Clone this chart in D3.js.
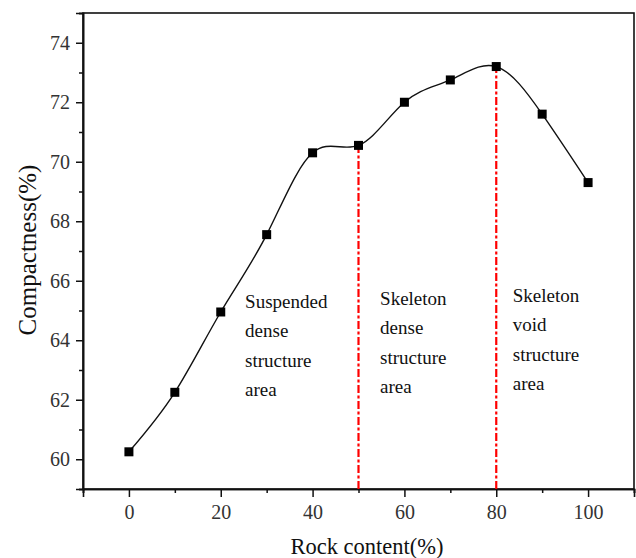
<!DOCTYPE html>
<html>
<head>
<meta charset="utf-8">
<script src="https://cdn.jsdelivr.net/npm/d3@7"></script>
<style>
  body { margin: 0; background: #fff; }
</style>
</head>
<body>
<script>
const width = 636, height = 558;
const serif = "'Liberation Serif', 'Times New Roman', Times, 'DejaVu Serif', serif";

// data
const rockContent = [0, 10, 20, 30, 40, 50, 60, 70, 80, 90, 100];
const compactness = [60.25, 62.25, 64.95, 67.55, 70.3, 70.55, 72.0, 72.75, 73.2, 71.6, 69.3];
const xMajor = [0, 20, 40, 60, 80, 100];
const xMinor = [-10, 10, 30, 50, 70, 90, 110];
const yMajor = [60, 62, 64, 66, 68, 70, 72, 74];
const yMinor = [59, 61, 63, 65, 67, 69, 71, 73, 75];
const boundaries = [50, 80];
const areaLabels = [
  { x: 25.3, lines: ["Suspended", "dense", "structure", "area"] },
  { x: 54.7, lines: ["Skeleton", "dense", "structure", "area"] },
  { x: 83.6, lines: ["Skeleton", "void", "structure", "area"] }
];

const m = { left: 83, right: 2, top: 13, bottom: 69 };

let svg = d3.select("body").append("svg")
  .attr("width", width)
  .attr("height", height)
  .attr("font-family", serif);

const x = d3.scaleLinear().domain([-10, 110]).range([m.left, width - m.right]);
const y = d3.scaleLinear().domain([59, 75]).range([height - m.bottom, m.top]);

const points = rockContent.map((d, i) => ({ x: d, y: compactness[i] }));

// frame
svg.append("rect")
  .attr("x", x(-10)).attr("y", y(75))
  .attr("width", x(110) - x(-10)).attr("height", y(59) - y(75))
  .attr("fill", "none").attr("stroke", "#111").attr("stroke-width", 1.6);

// axes
const xAxis = svg.append("g").attr("transform", `translate(0,${y(59)})`);
xAxis.call(d3.axisBottom(x).tickValues(xMajor).tickSize(8).tickPadding(8).tickFormat(d3.format("d")));
xAxis.append("g").call(d3.axisBottom(x).tickValues(xMinor).tickSize(4).tickFormat(""));

const yAxis = svg.append("g").attr("transform", `translate(${x(-10)},0)`);
yAxis.call(d3.axisLeft(y).tickValues(yMajor).tickSize(7).tickPadding(6).tickFormat(d3.format("d")));
yAxis.append("g").call(d3.axisLeft(y).tickValues(yMinor).tickSize(4).tickFormat(""));

svg.selectAll(".domain").attr("stroke", "#111").attr("stroke-width", 1.6);
svg.selectAll(".tick line").attr("stroke", "#111").attr("stroke-width", 1.5);
svg.selectAll("g").attr("font-family", null);
svg.selectAll(".tick text")
  .attr("font-family", serif)
  .attr("font-size", 20)
  .attr("fill", "#333");

// boundary lines
svg.selectAll(".bound")
  .data(boundaries)
  .enter()
  .append("line")
  .attr("class", "bound")
  .attr("x1", d => x(d)).attr("x2", d => x(d))
  .attr("y1", y(59))
  .attr("y2", d => y(compactness[rockContent.indexOf(d)]))
  .attr("stroke", "#ff0000")
  .attr("stroke-width", 2.2)
  .attr("stroke-dasharray", "8,2.5,3,2.5");

// curve
const line = d3.line()
  .x(d => x(d.x))
  .y(d => y(d.y))
  .curve(d3.curveNatural);

svg.append("path")
  .datum(points)
  .attr("d", line)
  .attr("fill", "none")
  .attr("stroke", "#111")
  .attr("stroke-width", 1.4);

const s = 9;
svg.selectAll(".pt")
  .data(points)
  .enter()
  .append("rect")
  .attr("class", "pt")
  .attr("x", d => x(d.x) - s / 2)
  .attr("y", d => y(d.y) - s / 2)
  .attr("width", s).attr("height", s)
  .attr("fill", "#000");

// area labels
const lab = svg.selectAll(".area")
  .data(areaLabels)
  .enter()
  .append("text")
  .attr("class", "area")
  .attr("font-family", serif)
  .attr("font-size", 19)
  .attr("fill", "#111");

lab.selectAll("tspan")
  .data((d, i) => d.lines.map(l => ({ l: l, x: d.x, i: i })))
  .enter()
  .append("tspan")
  .attr("x", d => x(d.x))
  .attr("y", (d, j) => [308, 305, 302][d.i] + j * 29.3)
  .text(d => d.l);

// axis titles
svg.append("text")
  .attr("x", 367).attr("y", 554)
  .attr("text-anchor", "middle")
  .attr("font-family", serif)
  .attr("font-size", 22.5)
  .attr("fill", "#111")
  .text("Rock content(%)");

svg.append("text")
  .attr("transform", `translate(36,250) rotate(-90)`)
  .attr("text-anchor", "middle")
  .attr("font-family", serif)
  .attr("font-size", 25)
  .attr("fill", "#111")
  .text("Compactness(%)");
</script>
</body>
</html>
